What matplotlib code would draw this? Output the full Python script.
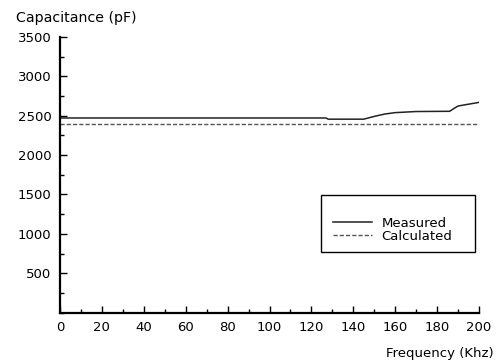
import matplotlib
matplotlib.use("Agg")
import matplotlib.pyplot as plt
from matplotlib.patches import Rectangle
from matplotlib.ticker import MultipleLocator

# Measured capacitance versus frequency
freq_measured = [0, 127, 128, 145, 150, 155, 160, 170, 186, 188, 190, 195, 200]
cap_measured = [2470, 2470, 2455, 2455, 2490, 2520, 2538, 2552, 2555, 2590, 2622, 2645, 2668]

# Calculated (constant) capacitance
freq_calc = [0, 200]
cap_calc = [2400, 2400]

x_ticks = [0, 20, 40, 60, 80, 100, 120, 140, 160, 180, 200]
y_ticks = [500, 1000, 1500, 2000, 2500, 3000, 3500]

plt.rcParams["font.family"] = ["DejaVu Sans"]

fig = plt.figure(figsize=(5.0, 3.61), dpi=100)
ax = fig.add_axes([0.12, 0.134, 0.838, 0.764])

ax.plot(freq_measured, cap_measured, color="#222222", lw=1.1, label="Measured")
ax.plot(freq_calc, cap_calc, color="#555555", lw=1.0, ls=(0, (3, 1.5)), label="Calculated")

ax.set_xlim(0, 200)
ax.set_ylim(0, 3500)
ax.set_xticks(x_ticks)
ax.set_yticks(y_ticks)
ax.xaxis.set_minor_locator(MultipleLocator(10))
ax.yaxis.set_minor_locator(MultipleLocator(250))

for side in ("top", "right"):
    ax.spines[side].set_visible(False)
for side in ("left", "bottom"):
    ax.spines[side].set_linewidth(1.6)

ax.tick_params(which="major", direction="in", length=5, width=1, labelsize=9.5, pad=6)
ax.tick_params(which="minor", direction="in", length=3, width=1)

# Legend entries without frame, boxed by a plain rectangle
leg = ax.legend(loc="upper left", bbox_to_anchor=(0.651, 0.347), frameon=False,
                fontsize=9.5, handlelength=3.0, borderpad=0, borderaxespad=0,
                labelspacing=0.0, handletextpad=0.7)
ax.add_patch(Rectangle((0.622, 0.221), 0.368, 0.206, transform=ax.transAxes,
                       fill=False, edgecolor="black", lw=1.0, zorder=5))

fig.text(16 / 500, 1 - 18 / 361, "Capacitance (pF)", fontsize=10.2, va="center", ha="left")
fig.text(494 / 500, 1 - 353 / 361, "Frequency (Khz)", fontsize=9.5, va="center", ha="right")

fig.savefig("out.png", dpi=100)
